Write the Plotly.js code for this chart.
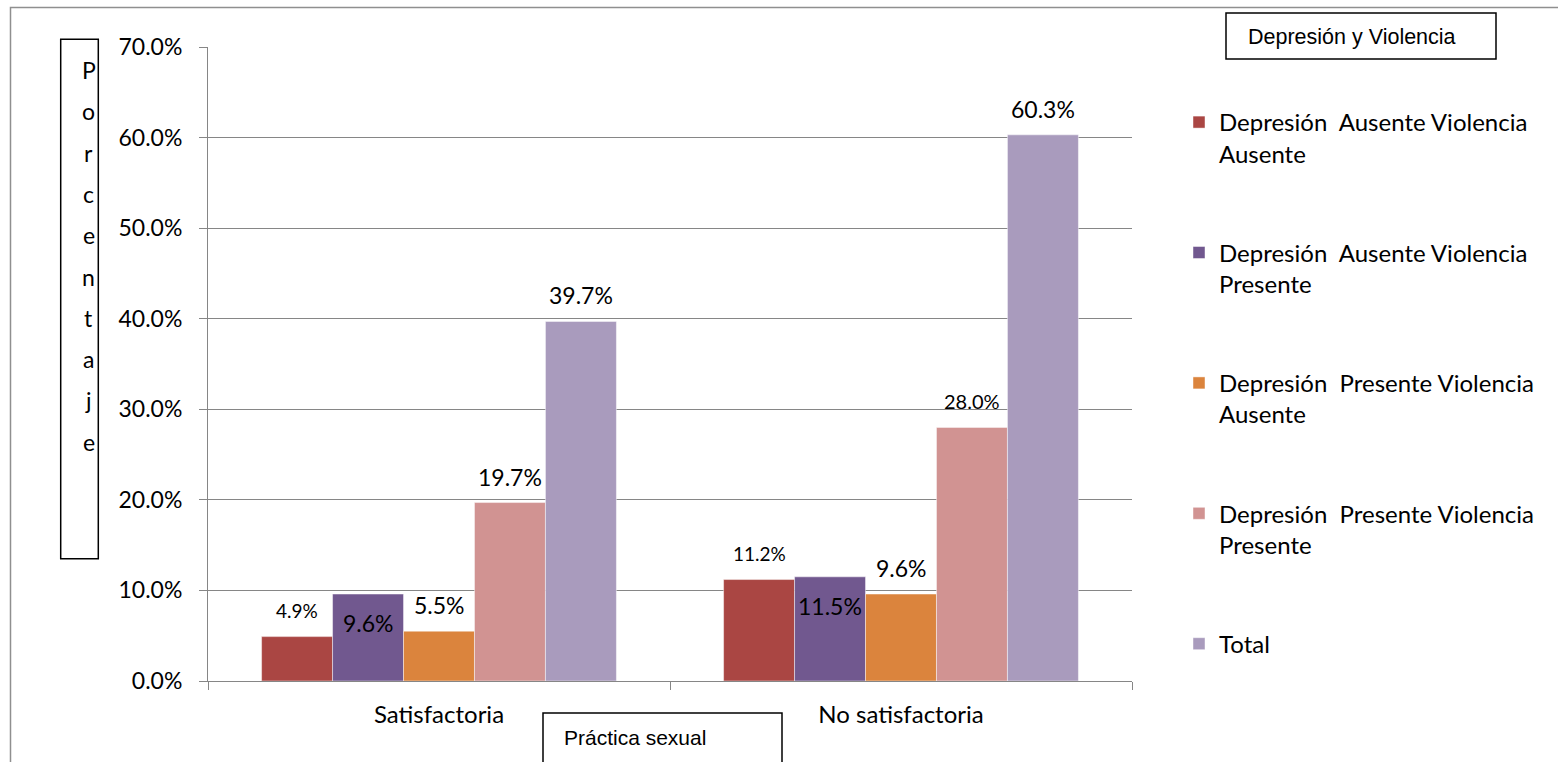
<!DOCTYPE html>
<html>
<head>
<meta charset="utf-8">
<script src="https://cdn.plot.ly/plotly-3.0.1.min.js"></script>
<style>
html,body{margin:0;padding:0;background:#fff;}
#chart{width:1558px;height:762px;}
</style>
</head>
<body>
<div id="chart"></div>
<script>
// ---- data ----
const categories = ['Satisfactoria', 'No satisfactoria'];
const seriesNames = [
  'Depresión\u00A0 Ausente Violencia<br>Ausente',
  'Depresión\u00A0 Ausente Violencia<br>Presente',
  'Depresión\u00A0 Presente Violencia<br>Ausente',
  'Depresión\u00A0 Presente Violencia<br>Presente',
  'Total'
];
const depAusViolAus = [4.9, 11.2];
const depAusViolPres = [9.6, 11.5];
const depPresViolAus = [5.5, 9.6];
const depPresViolPres = [19.7, 28.0];
const total = [39.7, 60.3];
const yTicks = [0, 10, 20, 30, 40, 50, 60, 70];
const yTickLabels = ['0.0%', '10.0%', '20.0%', '30.0%', '40.0%', '50.0%', '60.0%', '70.0%'];
const yTitle = 'Porcentaje';
const xTitle = 'Práctica sexual';
const legendTitle = 'Depresión y Violencia';

const seriesValues = [depAusViolAus, depAusViolPres, depPresViolAus, depPresViolPres, total];

// ---- styles ----
const colors = ['#AA4643', '#71588F', '#DB843D', '#D19392', '#A99BBD'];
const labelInside = [false, true, false, false, false];
const labelSizes = [[19, 19], [23, 23], [23, 23], [23, 20], [23, 23]];
const calibri = 'Lato, Carlito, Calibri, sans-serif';
const arial = '"Liberation Sans", Arial, sans-serif';

const W = 1558, H = 762;
const M = {l: 208, r: 426, t: 47, b: 81};
const plotW = W - M.l - M.r, plotH = H - M.t - M.b;
const px2x = px => (px - M.l) / plotW;
const py2y = py => (H - M.b - py) / plotH;
const bargap = 0.232;
const barW = plotW / categories.length * (1 - bargap) / seriesValues.length;

const traces = seriesValues.map((vals, i) => ({
  type: 'bar',
  x: categories,
  y: vals,
  name: seriesNames[i],
  legendgroup: 'g' + i,
  marker: {color: colors[i], line: {color: 'rgba(255,255,255,0.45)', width: 1}},
  hoverinfo: 'none'
}));

const annotations = [];
seriesValues.forEach((vals, s) => {
  vals.forEach((v, c) => {
    annotations.push({
      xref: 'x', yref: 'y', x: categories[c], y: v,
      xshift: (s - (seriesValues.length - 1) / 2) * barW,
      yshift: labelInside[s] ? -29 : 26,
      yanchor: 'middle', xanchor: 'center',
      text: v.toFixed(1) + '%', showarrow: false,
      font: {family: calibri, size: labelSizes[s][c], color: '#000'}
    });
  });
});

// vertical y title letters
yTitle.split('').forEach((ch, i) => {
  annotations.push({
    xref: 'paper', yref: 'paper', x: px2x(88.5), y: py2y(70 + i * 41.3),
    xanchor: 'center', yanchor: 'middle', showarrow: false, text: ch,
    font: {family: calibri, size: 23, color: '#000'}
  });
});
annotations.push({
  xref: 'paper', yref: 'paper', x: px2x(1246), y: py2y(37),
  xanchor: 'left', yanchor: 'middle', showarrow: false, text: legendTitle,
  font: {family: arial, size: 21.5, color: '#000'}
});
annotations.push({
  xref: 'paper', yref: 'paper', x: px2x(562), y: py2y(738),
  xanchor: 'left', yanchor: 'middle', showarrow: false, text: xTitle,
  font: {family: arial, size: 21, color: '#000'}
});

const rect = (x0, y0, x1, y1, color, w) => ({
  type: 'rect', xref: 'paper', yref: 'paper',
  x0: px2x(x0), x1: px2x(x1), y0: py2y(y0), y1: py2y(y1),
  line: {color: color, width: w}, fillcolor: 'rgba(0,0,0,0)', layer: 'above'
});

const shapes = [
  rect(10.5, 7.5, 1620, 820, '#8f8f8f', 1.5),
  rect(60.7, 39.3, 98.3, 558.7, '#000', 1.5),
  rect(1226, 13, 1496, 59, '#000', 1.5),
  rect(543, 713, 782, 820, '#000', 1.5)
];

const layout = {
  width: W, height: H, autosize: false,
  margin: {l: M.l, r: M.r, t: M.t, b: M.b, pad: 0},
  paper_bgcolor: '#fff', plot_bgcolor: '#fff',
  barmode: 'group', bargap: bargap, bargroupgap: 0,
  showlegend: true,
  legend: {
    x: px2x(1179), xanchor: 'left', y: py2y(100), yanchor: 'top',
    font: {family: calibri, size: 24, color: '#000'},
    tracegroupgap: 65, valign: 'top', bgcolor: 'rgba(0,0,0,0)'
  },
  xaxis: {
    type: 'category', tickson: 'boundaries', ticks: 'outside', ticklen: 8,
    tickcolor: '#868686', showline: true, linecolor: '#868686', linewidth: 1,
    showgrid: false, zeroline: false,
    tickfont: {family: calibri, size: 24, color: '#000'},
    ticklabelstandoff: 12, fixedrange: true
  },
  yaxis: {
    range: [0, 70], tickmode: 'array', tickvals: yTicks, ticktext: yTickLabels,
    ticks: 'outside', ticklen: 8, tickcolor: '#868686',
    showline: true, linecolor: '#868686', linewidth: 1,
    showgrid: true, gridcolor: '#868686', gridwidth: 1, zeroline: false,
    tickfont: {family: calibri, size: 23, color: '#000'},
    ticklabelstandoff: 12, fixedrange: true
  },
  annotations: annotations,
  shapes: shapes
};

Plotly.newPlot('chart', traces, layout, {displayModeBar: false, staticPlot: true});
</script>
</body>
</html>
